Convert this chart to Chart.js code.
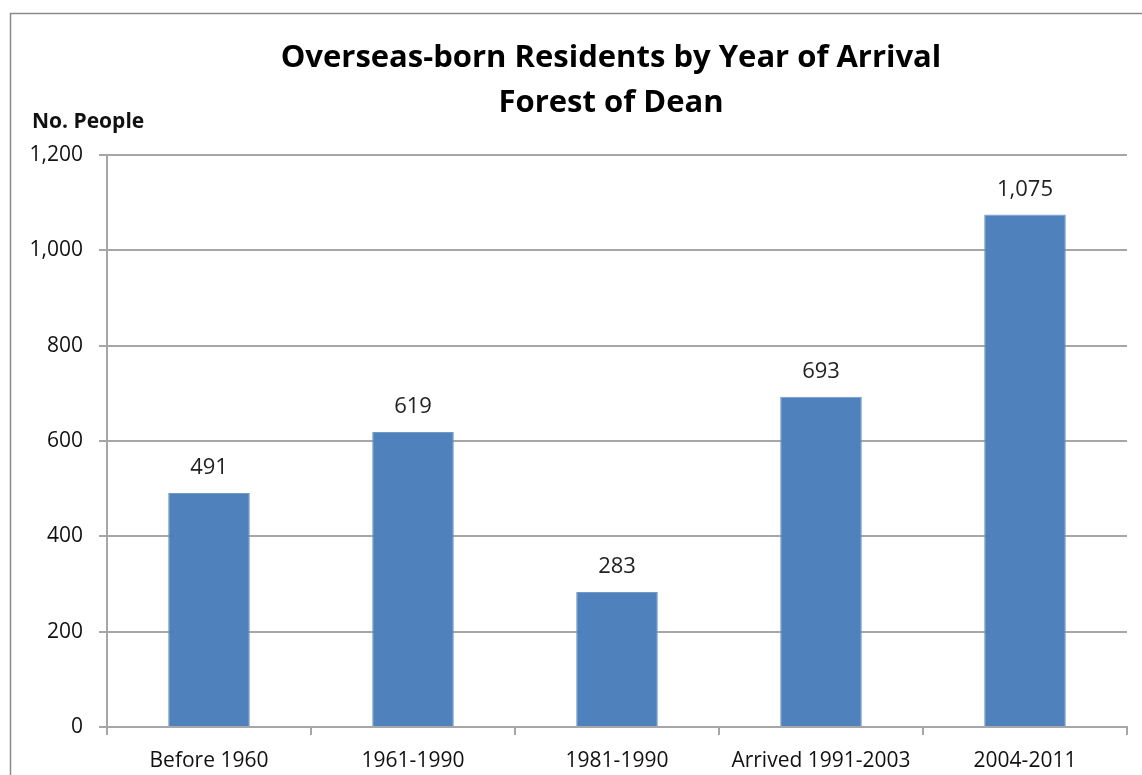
<!DOCTYPE html>
<html>
<head>
<meta charset="utf-8">
<script src="https://cdn.jsdelivr.net/npm/chart.js@4.4.1/dist/chart.umd.min.js"></script>
<style>
html,body{margin:0;padding:0;background:#fff;}
#wrap{position:relative;width:1142px;height:775px;}
</style>
</head>
<body>
<div id="wrap"><canvas id="c" width="1142" height="775"></canvas></div>
<script>
const categories = ["Before 1960", "1961-1990", "1981-1990", "Arrived 1991-2003", "2004-2011"];
const residents = [491, 619, 283, 693, 1075];
const yTicks = [0, 200, 400, 600, 800, 1000, 1200];
const titleLines = ["Overseas-born Residents by Year of Arrival", "Forest of Dean"];
const yAxisLabel = "No. People";

const FONT = "'Open Sans', Calibri, sans-serif";
const fmt = v => v.toLocaleString('en-US');

const frame = {
  id: 'frame',
  beforeDraw(chart) {
    const ctx = chart.ctx;
    ctx.save();
    ctx.fillStyle = '#fff';
    ctx.fillRect(0, 0, chart.width, chart.height);
    ctx.strokeStyle = '#8a8a8a';
    ctx.lineWidth = 1.5;
    ctx.strokeRect(10.5, 13.5, chart.width + 50, chart.height + 50);
    ctx.restore();
  },
  afterDraw(chart) {
    const ctx = chart.ctx;
    ctx.save();
    // title
    ctx.font = "bold 31px " + FONT;
    ctx.fillStyle = '#000';
    ctx.textAlign = 'center';
    ctx.textBaseline = 'alphabetic';
    ctx.fillText(titleLines[0], 611, 67);
    ctx.fillText(titleLines[1], 611, 112);
    // axis caption
    ctx.font = "bold 21px " + FONT;
    ctx.fillStyle = '#111';
    ctx.textAlign = 'left';
    ctx.fillText(yAxisLabel, 32, 128);
    // data labels
    const meta = chart.getDatasetMeta(0);
    ctx.font = "22px " + FONT;
    ctx.fillStyle = '#222';
    ctx.textAlign = 'center';
    meta.data.forEach((bar, i) => {
      ctx.fillText(fmt(residents[i]), bar.x, bar.y - 19);
    });
    ctx.restore();
  }
};

new Chart(document.getElementById('c'), {
  type: 'bar',
  data: {
    labels: categories,
    datasets: [{
      data: residents,
      backgroundColor: '#4F81BD',
      borderColor: '#7399C9',
      borderWidth: 1,
      categoryPercentage: 1,
      barPercentage: 0.4
    }]
  },
  options: {
    responsive: false,
    animation: false,
    devicePixelRatio: 1,
    layout: { padding: { top: 155, right: 15, bottom: 0, left: 0 } },
    plugins: {
      legend: { display: false },
      tooltip: { enabled: false },
      title: { display: false }
    },
    scales: {
      x: {
        offset: true,
        afterFit(scale) { scale.height = 48; },
        grid: {
          offset: true,
          drawOnChartArea: false,
          drawTicks: true,
          tickLength: 8,
          color: '#a6a6a6',
          lineWidth: 2
        },
        border: { color: '#a6a6a6', width: 2 },
        ticks: {
          color: '#111',
          font: { family: FONT, size: 21 },
          padding: 13,
          maxRotation: 0,
          autoSkip: false
        }
      },
      y: {
        min: 0,
        max: 1200,
        afterBuildTicks(scale) { scale.ticks = yTicks.map(v => ({ value: v })); },
        afterFit(scale) { scale.width = 107; },
        grid: {
          color: '#a6a6a6',
          lineWidth: 2,
          drawTicks: true,
          tickLength: 8,
          tickColor: '#a6a6a6'
        },
        border: { color: '#a6a6a6', width: 2 },
        ticks: {
          color: '#111',
          font: { family: FONT, size: 21 },
          padding: 16,
          callback: v => fmt(v)
        }
      }
    }
  },
  plugins: [frame]
});
</script>
</body>
</html>
